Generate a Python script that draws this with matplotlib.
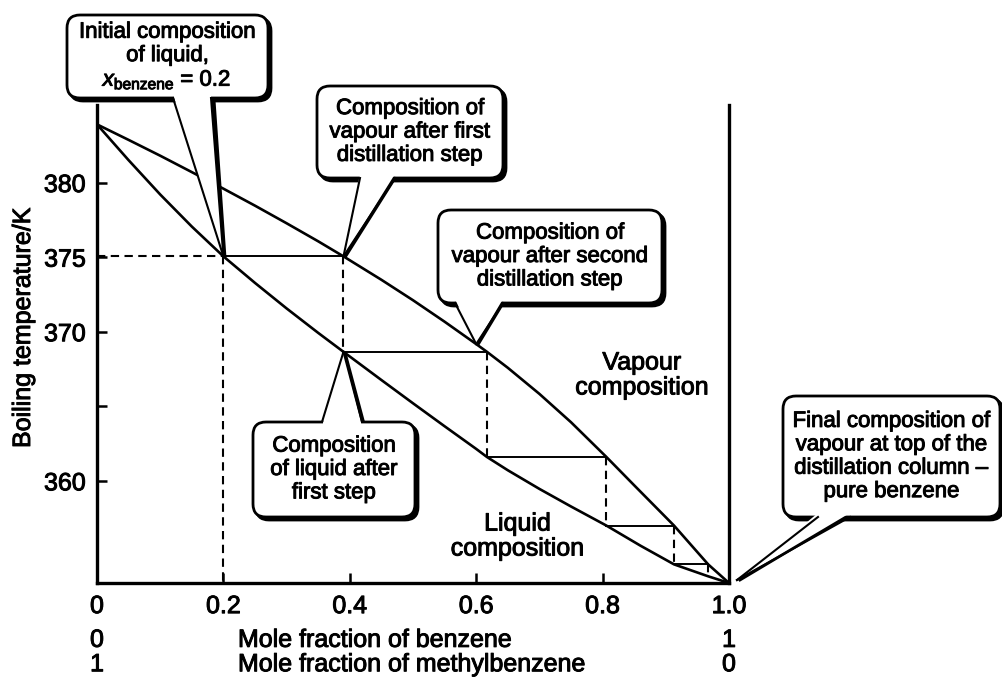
import numpy as np
import matplotlib.pyplot as plt
import matplotlib.patheffects as pe
from matplotlib.patches import FancyBboxPatch, Polygon
from matplotlib.transforms import IdentityTransform

# Boiling-point diagram, benzene / methylbenzene
x_vap = [0.0, 0.05, 0.1, 0.15, 0.2, 0.25, 0.3, 0.35, 0.39, 0.45, 0.5, 0.55, 0.6,
         0.617, 0.65, 0.7, 0.75, 0.806, 0.85, 0.913, 0.94, 0.967, 1.0]
T_vap = [383.9, 382.86, 381.8, 380.7, 379.59, 378.45, 377.27, 376.06, 375.05, 373.48,
         372.11, 370.67, 369.17, 368.65, 367.58, 365.83, 363.93, 361.6, 359.7, 357.0,
         355.7, 354.4, 353.15]

x_liq = [0.0, 0.05, 0.1, 0.15, 0.2, 0.25, 0.3, 0.35, 0.39, 0.45, 0.5, 0.55, 0.6,
         0.617, 0.65, 0.7, 0.75, 0.806, 0.86, 0.913, 0.94, 0.967, 1.0]
T_liq = [383.9, 381.5, 379.2, 377.05, 375.05, 373.27, 371.56, 369.92, 368.65, 366.76,
         365.2, 363.66, 362.14, 361.6, 360.71, 359.46, 358.28, 357.0, 355.65, 354.4,
         354.0, 353.6, 353.15]

# distillation steps: liquid x -> vapour x at constant T, then down to liquid
step_x_start = [0.2, 0.39, 0.617, 0.806, 0.913]
step_x_end = [0.39, 0.617, 0.806, 0.913, 0.967]
step_T = [375.05, 368.65, 361.6, 357.0, 354.4]
step_T_down = [368.65, 361.6, 357.0, 354.4, 353.6]

x_start = 0.2
T_start = 375.05

yticks = [360, 365, 370, 375, 380]
ytick_labels = ["360", "", "370", "375", "380"]
xticks = [0, 0.2, 0.4, 0.6, 0.8, 1.0]
xtick_labels = ["0", "0.2", "0.4", "0.6", "0.8", "1.0"]

W, H = 1002, 682
plt.rcParams['font.family'] = ['Liberation Sans', 'DejaVu Sans']
plt.rcParams['mathtext.fontset'] = 'custom'
plt.rcParams['mathtext.rm'] = 'Liberation Sans'
plt.rcParams['mathtext.it'] = 'Liberation Sans:italic'
heavy = [pe.withStroke(linewidth=0.7, foreground="black")]

fig = plt.figure(figsize=(W / 100, H / 100), dpi=100)
ax = fig.add_axes([97 / W, 1 - 583 / H, 632 / W, 478 / H])
ax.set_xlim(0, 1)
ax.set_ylim(353.15, 385.2)

ax.plot(x_vap, T_vap, color="black", lw=1.9, solid_capstyle="round")
ax.plot(x_liq, T_liq, color="black", lw=1.9, solid_capstyle="round")

dash = (0, (4, 2.6))
ax.plot([0, x_start], [T_start, T_start], color="black", lw=1.5, ls=dash)
ax.plot([x_start, x_start], [T_start, 353.15], color="black", lw=1.5, ls=dash)
for xs, xe, T, Td in zip(step_x_start, step_x_end, step_T, step_T_down):
    ax.plot([xs, xe], [T, T], color="black", lw=1.4)
    ax.plot([xe, xe], [T, Td], color="black", lw=1.5, ls=dash)

for s in ["left", "bottom", "right"]:
    ax.spines[s].set_linewidth(2.4)
ax.spines["top"].set_visible(False)
ax.set_yticks(yticks, ytick_labels)
ax.set_xticks(xticks, xtick_labels)
ax.tick_params(direction="in", length=7, width=1.8, labelsize=18, pad=8)
for lab in ax.get_xticklabels() + ax.get_yticklabels():
    lab.set_path_effects(heavy)

fig.text(23 / W, 1 - 328 / H, "Boiling temperature/K", rotation=90,
         ha="center", va="center", fontsize=18, path_effects=heavy)

tr = ax.get_xaxis_transform()
for yy, left, mid, right in [(-0.119, "0", "Mole fraction of benzene", "1"),
                             (-0.170, "1", "Mole fraction of methylbenzene", "0")]:
    ax.text(0, yy, left, transform=tr, ha="center", va="center", fontsize=18,
            path_effects=heavy)
    ax.text(0.223, yy, mid, transform=tr, ha="left", va="center", fontsize=18,
            path_effects=heavy)
    ax.text(1, yy, right, transform=tr, ha="center", va="center", fontsize=18,
            path_effects=heavy)

ax.text(0.862, 367.1, "Vapour\ncomposition", ha="center", va="center",
        fontsize=18, linespacing=1.05, path_effects=heavy)
ax.text(0.665, 356.3, "Liquid\ncomposition", ha="center", va="center",
        fontsize=18, linespacing=1.05, path_effects=heavy)


def callout(box, text, base, tip, tip_shift=(0, 0)):
    # box and base in pixels from top-left; tip in data coords
    x0, y0, x1, y1 = box
    ident = IdentityTransform()
    bx, by, bw, bh = x0, H - y1, x1 - x0, y1 - y0
    style = "round,pad=0,rounding_size=13"
    shadow = FancyBboxPatch((bx + 3, by - 3), bw, bh, boxstyle=style,
                            fc="black", ec="black", lw=2, transform=ident, zorder=5)
    body = FancyBboxPatch((bx, by), bw, bh, boxstyle=style,
                          fc="white", ec="black", lw=2, transform=ident, zorder=6)
    fig.add_artist(shadow)
    fig.add_artist(body)
    tx, ty = ax.transData.transform(tip)
    tx += tip_shift[0]
    ty -= tip_shift[1]
    (ax_, ay_), (bx_, by_) = base
    inward = 4 if ay_ > (y0 + y1) / 2 else -4
    p1 = (ax_, H - ay_ + inward)
    p2 = (bx_, H - by_ + inward)
    sh = Polygon([(p1[0] + 3, p1[1]), (tx + 2, ty - 1), (p2[0] + 3, p2[1])],
                 closed=True, fc="black", ec="black", lw=1.5,
                 transform=ident, zorder=5)
    wedge = Polygon([p1, (tx, ty), p2], closed=True, fc="white", ec="none",
                    transform=ident, zorder=7)
    fig.add_artist(sh)
    fig.add_artist(wedge)
    for p in (p1, p2):
        fig.add_artist(plt.Line2D([p[0], tx], [p[1] - inward, ty], color="black",
                                  lw=1.5, transform=ident, zorder=8))
    fig.text((x0 + x1) / 2 / W, 1 - (y0 + y1) / 2 / H, text, ha="center",
             va="center", fontsize=16, linespacing=1.15, zorder=9,
             path_effects=heavy)


callout((67, 15, 268, 98), "Initial composition\nof liquid,\n$x_{\\rm benzene}$ = 0.2",
        ((173, 98), (211, 98)), (0.2, 375.05))
callout((317, 86, 503, 178), "Composition of\nvapour after first\ndistillation step",
        ((360, 178), (395, 178)), (0.39, 375.05))
callout((438, 210, 662, 303), "Composition of\nvapour after second\ndistillation step",
        ((455, 303), (503, 303)), (0.6, 369.17))
callout((253, 422, 415, 517), "Composition\nof liquid after\nfirst step",
        ((322, 422), (362, 422)), (0.39, 368.65))
callout((783, 396, 1000, 517), "Final composition of\nvapour at top of the\ndistillation column \u2013\npure benzene",
        ((818, 517), (850, 517)), (1.0, 353.15), tip_shift=(8, -3))

fig.savefig("out.png", dpi=100)
